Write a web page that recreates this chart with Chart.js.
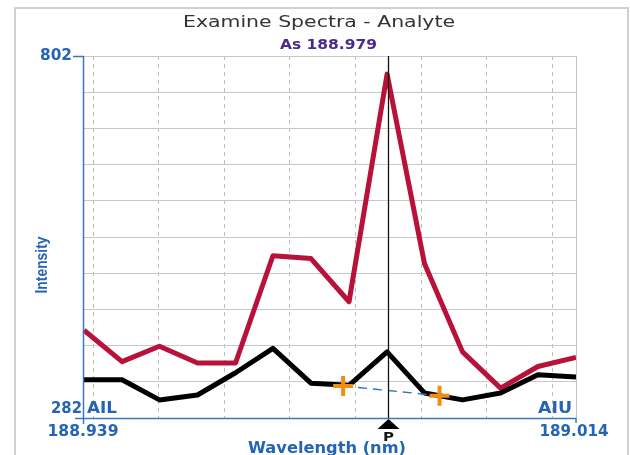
<!DOCTYPE html>
<html>
<head>
<meta charset="utf-8">
<script src="https://cdn.jsdelivr.net/npm/chart.js@4/dist/chart.umd.min.js"></script>
<style>
    html, body { margin: 0; padding: 0; background: #fff; }
    canvas { display: block; }
</style>
</head>
<body>
<canvas id="js--chart" width="630" height="455"></canvas>
<script>
/* spectrum data */
const wavelengths = [188.9386, 188.9444, 188.9501, 188.9559, 188.9617, 188.9674, 188.9732,
    188.9790, 188.9848, 188.9905, 188.9963, 189.0021, 189.0078, 189.0136];
const sampleIntensity = [408, 363, 385, 361, 361, 515, 511, 449, 776, 504, 377, 325, 356, 369];
const blankIntensity = [337, 337, 308, 315, 347, 382, 332, 329, 377, 318, 308, 318, 344, 341];

// background correction points (orange crosses) and the line between them
const bgWavelengths = [188.9781, 188.9928];
const bgIntensity = [328, 314];

const peakWavelength = 188.9850;

// axes
const xRange = [188.9386, 189.0136];
const xEndLabels = ["188.939", "189.014"];
const gridWavelengths = [188.94, 188.95, 188.96, 188.97, 188.98, 188.99, 189.00, 189.01];
const yRange = [282, 802];
const yStep = 52;
const yEndLabels = ["802", "282"];

const blue = "#2464b4";

function toPoints(xs, ys) {
    return xs.map(function (x, i) {
        return { x: x, y: ys[i] };
    });
}

// text squeezed/stretched to the width it has in the picture
function drawText(ctx, str, x, y, font, color, align, width) {
    ctx.save();
    ctx.font = font;
    ctx.fillStyle = color;
    ctx.textAlign = align;
    ctx.textBaseline = "middle";
    let stretch = width / ctx.measureText(str).width;
    ctx.translate(x, y);
    ctx.scale(stretch, 1);
    ctx.fillText(str, 0, 0);
    ctx.restore();
}

const framePlugin = {
    id: "frame",
    beforeDraw: function (chart) {
        const ctx = chart.ctx;
        ctx.save();
        ctx.fillStyle = "#fff";
        ctx.fillRect(0, 0, chart.width, chart.height);
        ctx.strokeStyle = "#d0d0d0";
        ctx.lineWidth = 2;
        ctx.strokeRect(15, 8, 613, 460);
        ctx.restore();
    },
    afterDatasetsDraw: function (chart) {
        const ctx = chart.ctx;
        const area = chart.chartArea;
        const x = chart.scales.x;
        const y = chart.scales.y;
        const peakX = Math.round(x.getPixelForValue(peakWavelength)) + 0.5;

        ctx.save();
        // right border
        ctx.strokeStyle = "#c4c4c4";
        ctx.lineWidth = 1;
        ctx.beginPath();
        ctx.moveTo(area.right + 0.5, area.top);
        ctx.lineTo(area.right + 0.5, area.bottom);
        ctx.stroke();

        // peak marker line
        ctx.strokeStyle = "#111";
        ctx.lineWidth = 1.3;
        ctx.beginPath();
        ctx.moveTo(peakX, area.top);
        ctx.lineTo(peakX, area.bottom);
        ctx.stroke();

        // axes
        ctx.strokeStyle = "#3a78c4";
        ctx.lineWidth = 1.5;
        ctx.beginPath();
        ctx.moveTo(area.left - 0.5, y.getPixelForValue(yRange[1]));
        ctx.lineTo(area.left - 0.5, area.bottom + 6);
        ctx.moveTo(area.left - 9, area.bottom + 0.5);
        ctx.lineTo(area.right, area.bottom + 0.5);
        ctx.lineTo(area.right, area.bottom + 5);
        ctx.moveTo(area.left - 11, y.getPixelForValue(yRange[1]) + 0.5);
        ctx.lineTo(area.left, y.getPixelForValue(yRange[1]) + 0.5);
        ctx.stroke();

        // peak triangle
        ctx.fillStyle = "#000";
        ctx.beginPath();
        ctx.moveTo(peakX, area.bottom + 1);
        ctx.lineTo(peakX + 11, area.bottom + 11);
        ctx.lineTo(peakX - 11, area.bottom + 11);
        ctx.closePath();
        ctx.fill();
        ctx.restore();
    },
    afterDraw: function (chart) {
        const ctx = chart.ctx;
        const area = chart.chartArea;
        const x = chart.scales.x;
        const y = chart.scales.y;
        const peakX = x.getPixelForValue(peakWavelength);
        const labelFont = 'bold 15px "DejaVu Sans"';

        drawText(ctx, "Examine Spectra - Analyte", 319, 22.5, '16px "DejaVu Sans"', "#333", "center", 272);
        drawText(ctx, "As 188.979", (area.left + area.right) / 2 - 1.5, 45, 'bold 13.5px "DejaVu Sans"', "#4b2a8c", "center", 97);

        drawText(ctx, yEndLabels[0], area.left - 12, y.getPixelForValue(yRange[1]), labelFont, blue, "right", 32);
        drawText(ctx, yEndLabels[1], area.left - 2, area.bottom - 9, labelFont, blue, "right", 31);
        drawText(ctx, "AIL", area.left + 3, area.bottom - 9, labelFont, blue, "left", 30);
        drawText(ctx, "AIU", area.right - 4, area.bottom - 9, labelFont, blue, "right", 34);

        drawText(ctx, xEndLabels[0], x.getPixelForValue(xRange[0]) - 1, area.bottom + 14, labelFont, blue, "center", 71);
        drawText(ctx, xEndLabels[1], x.getPixelForValue(xRange[1]) - 2, area.bottom + 14, labelFont, blue, "center", 69);
        drawText(ctx, "Wavelength (nm)", 327, area.bottom + 31, labelFont, blue, "center", 158);
        drawText(ctx, "P", peakX, area.bottom + 19.5, 'bold 13px "DejaVu Sans"', "#141414", "center", 11);

        ctx.save();
        ctx.translate(42.5, 265);
        ctx.rotate(-Math.PI / 2);
        drawText(ctx, "Intensity", 0, 0, 'bold 17px "Liberation Sans"', blue, "center", 57);
        ctx.restore();
    }
};

const data = {
    datasets: [
        {
            label: "background points",
            data: toPoints(bgWavelengths, bgIntensity),
            showLine: false,
            pointStyle: "cross",
            pointRadius: 10,
            pointHoverRadius: 10,
            pointBorderWidth: 4,
            pointBorderColor: "#f28c12",
            pointBackgroundColor: "#f28c12"
        },
        {
            label: "background",
            data: toPoints(bgWavelengths, bgIntensity),
            borderColor: "#2f72c0",
            borderWidth: 1.3,
            borderDash: [9, 6],
            pointRadius: 0
        },
        {
            label: "blank",
            data: toPoints(wavelengths, blankIntensity),
            borderColor: "#000",
            borderWidth: 5,
            borderJoinStyle: "round",
            pointRadius: 0,
            clip: false
        },
        {
            label: "sample",
            data: toPoints(wavelengths, sampleIntensity),
            borderColor: "#b8123a",
            borderWidth: 5,
            borderJoinStyle: "round",
            pointRadius: 0,
            clip: false
        }
    ]
};

const config = {
    type: "line",
    data: data,
    options: {
        responsive: false,
        devicePixelRatio: 1,
        animation: false,
        events: [],
        layout: { padding: { left: 84, right: 54, top: 56, bottom: 37 } },
        plugins: {
            legend: { display: false },
            tooltip: { enabled: false }
        },
        scales: {
            x: {
                type: "linear",
                min: xRange[0],
                max: xRange[1],
                afterBuildTicks: function (scale) {
                    scale.ticks = gridWavelengths.map(function (v) { return { value: v }; });
                },
                ticks: { display: false },
                grid: { color: "#bdbdbd", lineWidth: 1, drawTicks: false },
                border: { display: false, dash: [4, 4] }
            },
            y: {
                min: yRange[0],
                max: yRange[1],
                ticks: { display: false, stepSize: yStep },
                grid: { color: "#c8c8c8", lineWidth: 1, drawTicks: false },
                border: { display: false }
            }
        }
    },
    plugins: [framePlugin]
};

new Chart(document.getElementById("js--chart"), config);
</script>
</body>
</html>
